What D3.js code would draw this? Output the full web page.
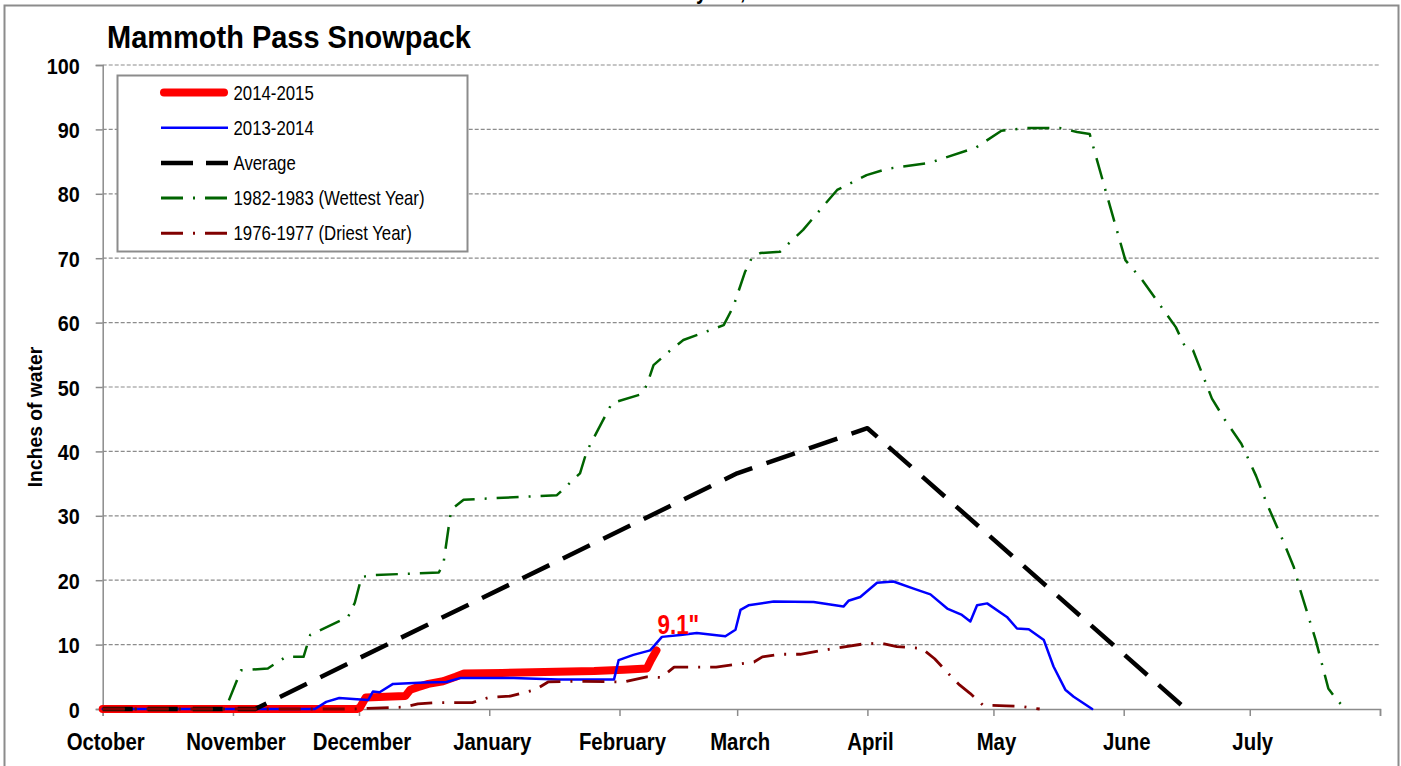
<!DOCTYPE html>
<html>
<head>
<meta charset="utf-8">
<script src="https://cdn.jsdelivr.net/npm/d3@7"></script>
<style>
  html, body { margin: 0; padding: 0; background: #fff; }
  svg { display: block; }
  text { font-family: "Liberation Sans", Arial, sans-serif; }
</style>
</head>
<body>
<svg id="chart" width="1401" height="766"></svg>
<script>
// ---------------- DATA ----------------
const monthLabels = ["October","November","December","January","February","March","April","May","June","July"];
const monthStartDays = [0,31,61,92,123,151,182,212,243,273,304]; // days since Oct 1
const yTickValues = [0,10,20,30,40,50,60,70,80,90,100];

const legendLabels = ["2014-2015","2013-2014","Average","1982-1983 (Wettest Year)","1976-1977 (Driest Year)"];

// [day since Oct 1, inches of water]
const season2015 = [[0,0],[60.5,0],[61.2,0.2],[62.6,1.8],[72,2.0],[73.2,3.0],[75,3.4],[77.5,3.9],[81,4.3],[84,5.0],[86,5.5],[95,5.6],[108,5.8],[117,5.9],[124,6.1],[129.5,6.3],[130.5,7.6],[131.8,9.1]];
const season2014 = [[0,0],[50.5,0],[53.2,1.1],[56.3,1.7],[60.5,1.5],[63.2,1.4],[64.3,2.7],[65.9,2.6],[69.1,3.9],[76.5,4.1],[81.8,4.2],[85,4.8],[97.8,4.8],[108.4,4.6],[121.7,4.6],[122.8,7.6],[126.3,8.4],[130.3,9.1],[133.1,11.2],[137.5,11.5],[141.4,11.8],[148.2,11.3],[150.6,12.3],[151.8,15.4],[153.7,16.1],[159.7,16.7],[169.2,16.6],[176.3,15.9],[177.5,16.8],[180.3,17.4],[184.3,19.6],[188.2,19.8],[193,18.7],[197,17.8],[201,15.6],[204.5,14.6],[206.5,13.6],[208.1,16.1],[210.5,16.4],[215.2,14.3],[217.6,12.5],[220.4,12.4],[224,10.7],[226.3,6.6],[229.1,3.0],[231.1,1.9],[235.5,0]];
const averageSeason = [[0,0],[36.3,0],[151,36.6],[182,43.6],[257.8,0]];
const wettest = [[0,0],[29.2,0],[32.9,6.0],[39.3,6.3],[43.6,8.1],[47.8,8.1],[49.4,11.5],[58.4,14.3],[60,16.5],[61.6,20.5],[64.8,20.8],[80,21.2],[81.1,22.6],[82.7,29.9],[83.4,31.2],[85.9,32.5],[108.1,33.2],[113.6,36.6],[115.2,40],[121.2,47.5],[128.3,48.9],[129.5,50.3],[131.1,53.4],[135.1,55.7],[138.2,57.3],[147.8,59.6],[150.1,62.5],[152.9,67.9],[154.6,70.2],[156.5,70.8],[161.2,71],[166.7,74.4],[174.8,80.6],[181.8,82.9],[186.8,83.9],[196.8,84.8],[207.9,87.2],[213.9,89.8],[219.9,90.2],[227.9,90.2],[231.9,89.6],[234.9,89.3],[238.9,80.0],[243.4,69.7],[247.4,66.6],[255.4,59.3],[257.5,56.4],[259.5,55.7],[264,48.2],[267,45],[271,41.2],[274.5,36.2],[277,32],[281,26],[283.5,22],[285,18.5],[288.7,10.7],[291.7,3.2],[293.4,1.7],[295.7,0]];
const driest = [[0,0],[60,0],[63,0.1],[72,0.3],[75,0.8],[80,1.0],[88,1.0],[92,1.8],[97,2.0],[103,3.0],[106,4.2],[112,4.3],[124,4.2],[129.5,5.0],[133,4.9],[136,6.5],[146,6.5],[155,7.3],[157,8.1],[161,8.5],[166,8.5],[174,9.4],[182,10.2],[186,10.1],[189,9.7],[195,9.4],[198,7.8],[202,5.0],[204,3.7],[206.5,2.4],[209.5,0.6],[215,0.5],[218.5,0.4],[223,0]];

const lastValueLabel = "9.1\"";

// ---------------- CHART ----------------
const svg = d3.select("#chart");
const x = d3.scaleLinear().domain([0, 304]).range([102.7, 1380]);
const y = d3.scaleLinear().domain([0, 100]).range([709, 65]);

// narrow (condensed) text helper: horizontal scaling around the anchor point
function narrow(sel, px, py, sx) {
  return sel.attr("transform", `translate(${px},${py}) scale(${sx},1)`);
}

// outer frame
svg.append("rect").attr("x", 4.5).attr("y", 5.5).attr("width", 1394).attr("height", 800)
  .attr("fill", "none").attr("stroke", "#8c8c8c").attr("stroke-width", 2);

// cut-off header text at top
narrow(svg.append("text").attr("text-anchor", "end").attr("font-weight", "bold").attr("font-size", 23).text("February"), 707, -1, 0.86);
narrow(svg.append("text").attr("font-weight", "bold").attr("font-size", 23).text("15, 2015"), 718, -1, 0.86);

// gridlines
svg.append("g").selectAll("line").data(yTickValues.filter(d => d > 0)).join("line")
  .attr("x1", x(0)).attr("x2", x(304))
  .attr("y1", d => y(d)).attr("y2", d => y(d))
  .attr("stroke", "#8c8c8c").attr("stroke-width", 1.2).attr("stroke-dasharray", "4,2");

// y axis
const yAxis = svg.append("g").attr("transform", `translate(${x(0)},0)`)
  .call(d3.axisLeft(y).tickValues(yTickValues).tickSize(7).tickFormat(d3.format("d")));
yAxis.select(".domain").attr("stroke", "#8c8c8c").attr("stroke-width", 1.5);
yAxis.selectAll(".tick line").attr("stroke", "#8c8c8c").attr("stroke-width", 1.5);
yAxis.selectAll(".tick text")
  .attr("x", null).attr("dy", null)
  .attr("font-size", 22).attr("font-weight", "bold").attr("fill", "#000")
  .attr("transform", "translate(-23,8) scale(0.9,1)");

// x axis
const xAxis = svg.append("g").attr("transform", `translate(0,${y(0)})`)
  .call(d3.axisBottom(x).tickValues(monthStartDays).tickSize(7).tickFormat(""));
xAxis.select(".domain").attr("stroke", "#8c8c8c").attr("stroke-width", 1.5);
xAxis.selectAll(".tick line").attr("stroke", "#8c8c8c").attr("stroke-width", 1.5);
svg.append("g").selectAll("text").data(monthLabels).join("text")
  .attr("transform", (d, i) => `translate(${x(monthStartDays[i]) + 3},750) scale(0.86,1)`)
  .attr("text-anchor", "middle").attr("font-size", 23.7).attr("font-weight", "bold").text(d => d);

// y axis title
svg.append("text")
  .attr("transform", "translate(42,417) rotate(-90) scale(0.92,1)")
  .attr("text-anchor", "middle").attr("font-size", 21).attr("font-weight", "bold").text("Inches of water");

// title
narrow(svg.append("text").attr("font-size", 32).attr("font-weight", "bold").text("Mammoth Pass Snowpack"), 107, 48, 0.906);

// lines
const line = d3.line().x(d => x(d[0])).y(d => y(d[1]));
const styles = [
  { data: season2015, color: "#ff0000", width: 8, dash: null },
  { data: season2014, color: "#0000ff", width: 2.5, dash: null },
  { data: averageSeason, color: "#000000", width: 4.5, dash: "30,15" },
  { data: wettest, color: "#006400", width: 2.5, dash: "22,10,2,10" },
  { data: driest, color: "#800000", width: 2.8, dash: "22,10,2,10" }
];
styles.forEach(s => {
  svg.append("path").datum(s.data).attr("d", line)
    .attr("fill", "none").attr("stroke", s.color).attr("stroke-width", s.width)
    .attr("stroke-linejoin", "round").attr("stroke-linecap", s.dash ? "butt" : "round")
    .attr("stroke-dasharray", s.dash);
});

// last value label
const last = season2015[season2015.length - 1];
narrow(svg.append("text").attr("font-size", 28).attr("font-weight", "bold").attr("fill", "#ff0000").text(lastValueLabel),
  x(last[0]) + 1, y(last[1]) - 16, 0.8);

// legend
const lg = svg.append("g");
lg.append("rect").attr("x", 117.5).attr("y", 75.5).attr("width", 350).attr("height", 176)
  .attr("fill", "#fff").attr("stroke", "#8c8c8c").attr("stroke-width", 2);
const legendDash = [null, null, "32,13", "22,10,2,10", "22,10,2,10"];
const legendWidth = [8, 2.5, 4.5, 3, 3];
legendLabels.forEach((lab, i) => {
  const yy = 92.5 + i * 35.2;
  const s = styles[i];
  lg.append("line").attr("x1", i === 0 ? 164 : 161).attr("x2", i === 0 ? 224 : 228).attr("y1", yy).attr("y2", yy)
    .attr("stroke", s.color).attr("stroke-width", legendWidth[i])
    .attr("stroke-linecap", i === 0 ? "round" : "butt")
    .attr("stroke-dasharray", legendDash[i]);
  narrow(lg.append("text").attr("font-size", 20).attr("fill", "#000").text(lab), 233.5, yy + 7, 0.84);
});
</script>
</body>
</html>
